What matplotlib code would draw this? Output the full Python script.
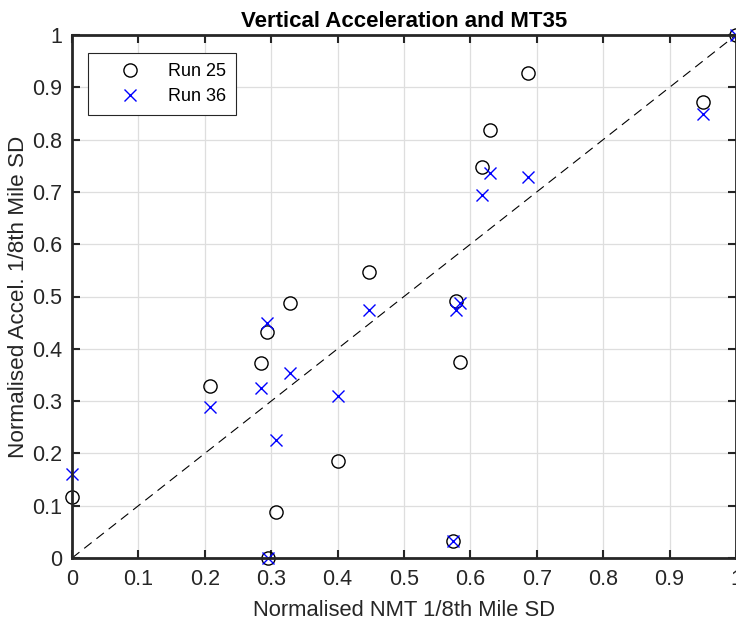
import matplotlib
matplotlib.use("Agg")
import matplotlib.pyplot as plt
import numpy as np

plt.rcParams['font.family'] = ['Liberation Sans', 'DejaVu Sans']

# normalised NMT SD (shared by both runs)
nmt = [0.0, 0.208, 0.284, 0.294, 0.329, 0.295, 0.307, 0.401, 0.448,
       0.579, 0.584, 0.574, 0.618, 0.630, 0.686, 0.950, 1.0]
run25_x = nmt
run25_y = [0.117, 0.328, 0.373, 0.433, 0.488, 0.0, 0.088, 0.186, 0.546,
           0.491, 0.375, 0.033, 0.747, 0.818, 0.927, 0.872, 1.0]
run36_x = nmt
run36_y = [0.161, 0.288, 0.326, 0.450, 0.354, 0.0, 0.226, 0.310, 0.474,
           0.474, 0.488, 0.033, 0.694, 0.736, 0.729, 0.849, 1.0]

fig = plt.figure(figsize=(7.36, 6.22), dpi=100)
ax = fig.add_axes([72/736, 64/622, 664/736, 523/622])

ax.plot([0, 1], [0, 1], '--', color='k', lw=0.8, dashes=(8.5, 5.5), label='_nolegend_')
ax.plot(run25_x, run25_y, 'o', mfc='none', mec='k', ms=9.5, mew=1.0, label='Run 25', clip_on=False)
ax.plot(run36_x, run36_y, 'x', color='b', ms=9, mew=1.0, label='Run 36', clip_on=False)

ax.set_xlim(0, 1)
ax.set_ylim(0, 1)
ticks = np.round(np.arange(0, 1.01, 0.1), 1)
ax.set_xticks(ticks)
ax.set_yticks(ticks)
ax.set_xticklabels(['0'] + ['%.1f' % t for t in ticks[1:-1]] + ['1'])
ax.set_yticklabels(['0'] + ['%.1f' % t for t in ticks[1:-1]] + ['1'])
ax.tick_params(direction='in', length=6, width=1.5, top=True, right=True,
               labelsize=15.5, colors='#262626')
ax.tick_params(axis='x', pad=8)
ax.tick_params(axis='y', pad=7)
ax.grid(True, color='#dedede', lw=0.9)
ax.set_axisbelow(True)
for s in ax.spines.values():
    s.set_linewidth(2)
    s.set_color('#262626')

ax.set_xlabel('Normalised NMT 1/8th Mile SD', fontsize=15.8, color='#262626', labelpad=7)
ax.set_ylabel('Normalised Accel. 1/8th Mile SD', fontsize=16.2, color='#262626', labelpad=2)
ax.set_title('Vertical Acceleration and MT35', fontsize=16, fontweight='bold', pad=6)

leg = ax.legend(loc='upper left', bbox_to_anchor=(16/664, 1 - 18/523), borderaxespad=0,
                fancybox=False, framealpha=1, edgecolor='#262626', fontsize=13,
                handlelength=3.6, borderpad=0.55, labelspacing=0.45, handletextpad=0.3)
leg.get_frame().set_linewidth(0.8)

fig.savefig('out.png', dpi=100)
